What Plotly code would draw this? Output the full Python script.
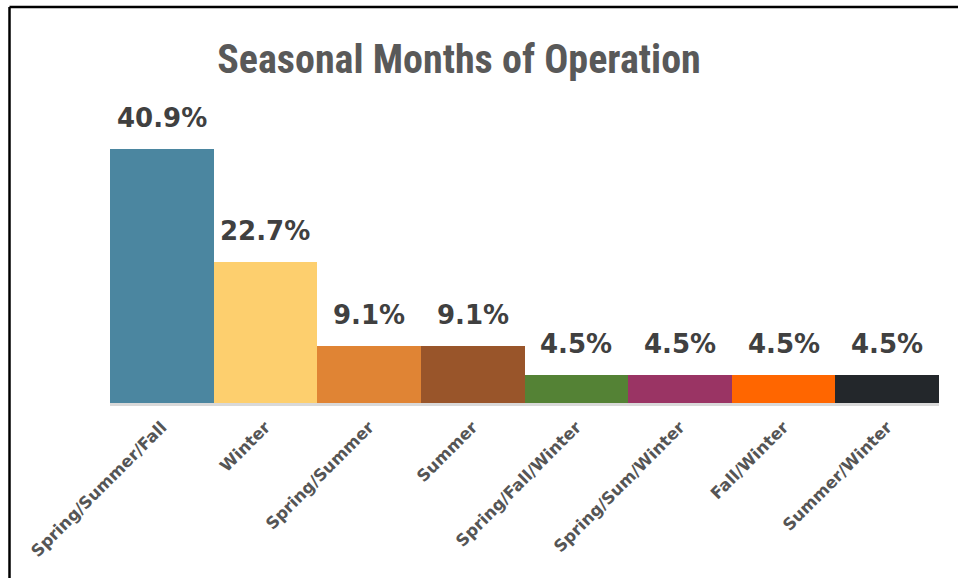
import plotly.graph_objects as go

categories = ["Spring/Summer/Fall", "Winter", "Spring/Summer", "Summer",
              "Spring/Fall/Winter", "Spring/Sum/Winter", "Fall/Winter", "Summer/Winter"]
values = [40.9, 22.7, 9.1, 9.1, 4.5, 4.5, 4.5, 4.5]
labels = ["40.9%", "22.7%", "9.1%", "9.1%", "4.5%", "4.5%", "4.5%", "4.5%"]
colors = ["#4B86A0", "#FDCF6E", "#E08434", "#99552A", "#548235", "#9A3464", "#FF6600", "#23272B"]

W, H = 958, 578
L, R, T, B = 110, 19, 100, 175
pw, ph = W - L - R, H - T - B
ymax = ph / 6.21

def px_x(x):
    return (x - L) / pw

def px_y(y):
    return (H - B - y) / ph

fig = go.Figure(go.Bar(
    x=categories, y=values, marker=dict(color=colors, line=dict(width=0)),
    width=1.0, hoverinfo="skip",
))

for c, v, t in zip(categories, values, labels):
    fig.add_annotation(x=c, y=v, text=t, showarrow=False, yanchor="bottom",
                       yshift=14,
                       font=dict(family="DejaVu Sans", size=26, color="#404040", weight="bold"))

fig.add_shape(type="line", xref="paper", yref="paper",
              x0=px_x(9.5), x1=px_x(W + 5), y0=px_y(7), y1=px_y(7),
              line=dict(color="black", width=2.5))
fig.add_shape(type="line", xref="paper", yref="paper",
              x0=px_x(9.5), x1=px_x(9.5), y0=px_y(7), y1=px_y(H + 5),
              line=dict(color="black", width=2.5))

fig.update_layout(
    width=W, height=H,
    margin=dict(l=L, r=R, t=T, b=B, autoexpand=False),
    paper_bgcolor="white", plot_bgcolor="white",
    bargap=0,
    showlegend=False,
    title=dict(text="Seasonal Months of Operation", x=459 / W, xanchor="center",
               y=1 - 59 / H, yanchor="middle",
               font=dict(family="Roboto Condensed, DejaVu Sans Condensed, sans-serif",
                         size=40, color="#595959", weight="bold")),
    xaxis=dict(tickangle=-45, showgrid=False, showline=True, linecolor="#D9D9D9",
               linewidth=3, layer="below traces", ticks="", ticklabelstandoff=5,
               tickfont=dict(family="DejaVu Sans", size=16.5, color="#555555", weight="bold"),
               fixedrange=True),
    yaxis=dict(range=[0, ymax], visible=False, showgrid=False, zeroline=False, fixedrange=True),
)

fig.write_html("out.html", config={"displayModeBar": False},
               post_script="document.body.style.margin='0px';")
